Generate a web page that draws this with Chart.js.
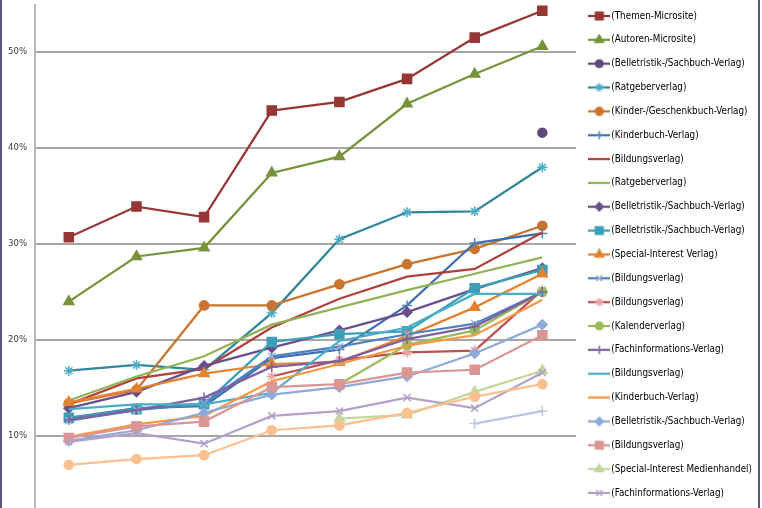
<!DOCTYPE html>
<html>
<head>
<meta charset="utf-8">
<script src="https://cdn.jsdelivr.net/npm/chart.js@4.4.1/dist/chart.umd.min.js"></script>
<style>
  html, body { margin: 0; padding: 0; background: #fff; overflow: hidden; width: 762px; height: 508px; }
  #wrap { position: relative; width: 762px; height: 508px; overflow: hidden; }
  #wrap canvas { position: absolute; left: 0; top: -3px; }
  .edge { position: absolute; top: 0; width: 2px; height: 508px; background: #55557f; }
</style>
</head>
<body>
<div id="wrap">
  <canvas id="myChart" width="762" height="580"></canvas>
  <div class="edge" style="left:0"></div>
  <div class="edge" style="left:758px"></div>
</div>
<script>
// x categories (labels are cut off in the original, so they stay hidden)
const categories = ["1", "2", "3", "4", "5", "6", "7", "8"];
const yTicks = [10, 20, 30, 40, 50];

// values in percent
const themenMicrosite = [30.7, 33.9, 32.8, 43.9, 44.8, 47.2, 51.5, 54.3];
const autorenMicrosite = [24.0, 28.7, 29.6, 37.4, 39.1, 44.6, 47.7, 50.6];
const belletristik1 = [null, null, null, null, null, null, null, 41.6];
const ratgeber1 = [16.8, 17.4, 16.9, 22.8, 30.5, 33.3, 33.4, 38.0];
const kinderGeschenk = [13.4, 14.8, 23.6, 23.6, 25.8, 27.9, 29.5, 31.9];
const kinderbuch1 = [11.9, 12.9, 13.1, 18.1, 19.0, 23.6, 30.1, 31.1];
const bildung1 = [13.3, 16.0, 17.0, 21.3, 24.3, 26.6, 27.4, 31.2];
const ratgeber2 = [13.7, 16.2, 18.3, 21.6, 23.4, 25.2, 26.9, 28.6];
const belletristik2 = [12.9, 14.6, 17.3, 19.2, 21.0, 22.9, 25.3, 27.5];
const belletristik3 = [11.9, 12.8, 13.3, 19.8, 20.6, 20.9, 25.4, 27.3];
const specialInterest = [13.5, 14.9, 16.5, 17.5, 17.7, 20.4, 23.4, 26.9];
const bildung2 = [11.6, 12.7, 13.4, 18.3, 19.3, 20.6, 21.7, 25.0];
const bildung3 = [null, null, null, 16.2, 17.9, 18.7, 18.9, 25.2];
const kalender = [null, null, null, null, 15.4, 19.5, 21.0, 25.0];
const fachinfo1 = [11.7, 12.7, 14.0, 17.2, 17.8, 20.1, 21.4, 25.0];
const bildung4 = [12.8, 13.3, 13.3, 14.5, 19.9, 21.3, 24.8, 24.8];
const kinderbuch2 = [9.9, 11.2, 12.1, 15.7, 17.5, 19.4, 20.5, 24.2];
const belletristik4 = [9.5, 10.6, 12.4, 14.3, 15.1, 16.2, 18.6, 21.6];
const bildung5 = [9.8, 11.0, 11.5, 15.1, 15.4, 16.6, 16.9, 20.5];
const specialMedien = [null, null, null, null, 11.8, 12.2, 14.6, 16.8];
const fachinfo2 = [9.4, 10.3, 9.2, 12.1, 12.6, 14.0, 12.9, 16.6];
// two more series whose legend entries are below the visible area
const extra1 = [7.0, 7.6, 8.0, 10.6, 11.1, 12.4, 14.1, 15.4];
const extra2 = [null, null, null, null, null, null, 11.3, 12.6];

const seriesNames = [
  "(Themen-Microsite)", "(Autoren-Microsite)", "(Belletristik-/Sachbuch-Verlag)", "(Ratgeberverlag)",
  "(Kinder-/Geschenkbuch-Verlag)", "(Kinderbuch-Verlag)", "(Bildungsverlag)", "(Ratgeberverlag)",
  "(Belletristik-/Sachbuch-Verlag)", "(Belletristik-/Sachbuch-Verlag)", "(Special-Interest Verlag)",
  "(Bildungsverlag)", "(Bildungsverlag)", "(Kalenderverlag)", "(Fachinformations-Verlag)",
  "(Bildungsverlag)", "(Kinderbuch-Verlag)", "(Belletristik-/Sachbuch-Verlag)", "(Bildungsverlag)",
  "(Special-Interest Medienhandel)", "(Fachinformations-Verlag)", "", ""
];
const seriesValues = [
  themenMicrosite, autorenMicrosite, belletristik1, ratgeber1, kinderGeschenk, kinderbuch1, bildung1,
  ratgeber2, belletristik2, belletristik3, specialInterest, bildung2, bildung3, kalender, fachinfo1,
  bildung4, kinderbuch2, belletristik4, bildung5, specialMedien, fachinfo2, extra1, extra2
];

// look: [line colour, marker colour, marker style, marker radius]
const looks = [
  ["#953735", "#953735", "rect", 6.4],
  ["#77933c", "#77933c", "triangle", 5.8],
  ["#604a7b", "#604a7b", "circle", 4.5],
  ["#31859c", "#4bacc6", "star", 5],
  ["#c9742f", "#c9742f", "circle", 4.6],
  ["#3f6fae", "#4f81bd", "cross", 5],
  ["#b0403c", "#b0403c", false, 0],
  ["#92b256", "#92b256", false, 0],
  ["#6a4f8d", "#6a4f8d", "rectRot", 4.8],
  ["#3c9fb8", "#3c9fb8", "rect", 6.4],
  ["#e5822f", "#e5822f", "triangle", 5.8],
  ["#4f81bd", "#95b3d7", "crossRot", 5],
  ["#c0504d", "#e6a3a1", "star", 5],
  ["#9bbb59", "#9bbb59", "circle", 4.5],
  ["#7e62a0", "#8064a2", "cross", 5],
  ["#4bacc6", "#4bacc6", false, 0],
  ["#f79646", "#f79646", false, 0],
  ["#8eaadb", "#8eaadb", "rectRot", 4.8],
  ["#d99694", "#d99694", "rect", 6.4],
  ["#c3d69b", "#c3d69b", "triangle", 5.8],
  ["#b3a2c7", "#b3a2c7", "crossRot", 5],
  ["#fac090", "#fac090", "circle", 4.6],
  ["#b9c6e3", "#b9c6e3", "cross", 5]
];

const FONT = "'DejaVu Sans Condensed', 'DejaVu Sans', sans-serif";
const LEGEND_SIZE = 9.8;

// small legend pictures: line with marker in the middle
function legendIcon(look) {
  const c = document.createElement("canvas");
  c.width = 22;
  c.height = 12;
  const g = c.getContext("2d");
  g.strokeStyle = look[0];
  g.lineWidth = 2.25;
  g.beginPath();
  g.moveTo(0, 6);
  g.lineTo(22, 6);
  g.stroke();
  if (look[2]) {
    g.fillStyle = look[1];
    g.strokeStyle = look[1];
    g.lineWidth = 1.5;
    Chart.helpers.drawPoint(g, { pointStyle: look[2], radius: look[3] * 0.85, rotation: 0, borderWidth: 1.5 }, 11, 6);
  }
  return c;
}
const icons = looks.map(legendIcon);

const datasets = seriesValues.map((vals, i) => ({
  label: seriesNames[i],
  data: vals,
  borderColor: looks[i][0],
  backgroundColor: looks[i][0],
  borderWidth: 2.25,
  pointStyle: looks[i][2] || "circle",
  pointRadius: looks[i][2] ? looks[i][3] : 0,
  pointBackgroundColor: looks[i][1],
  pointBorderColor: looks[i][1],
  pointBorderWidth: 1.5,
  tension: 0,
  fill: false
}));
// draw first series last so it is on top
datasets.forEach((d, i) => { d.order = -i; });

const ctx = document.getElementById("myChart");
const myChart = new Chart(ctx, {
  type: "line",
  data: { labels: categories, datasets: datasets },
  options: {
    responsive: false,
    animation: false,
    layout: { padding: { left: 8, top: 0, right: 0, bottom: 0 } },
    plugins: {
      tooltip: { enabled: false },
      legend: {
        position: "right",
        align: "start",
        maxWidth: 220,
        labels: {
          usePointStyle: true,
          pointStyleWidth: 14.2,
          boxHeight: LEGEND_SIZE,
          padding: 14.05,
          color: "#111",
          font: { family: FONT, size: LEGEND_SIZE },
          generateLabels: (chart) => chart.data.datasets.map((d, i) => ({
            text: d.label,
            pointStyle: icons[i],
            datasetIndex: i,
            hidden: false,
            lineWidth: 0,
            fillStyle: "rgba(0,0,0,0)",
            strokeStyle: "rgba(0,0,0,0)"
          })),
          filter: (item) => item.text !== ""
        }
      }
    },
    scales: {
      x: { display: false, offset: true },
      y: {
        min: 0,
        max: 56,
        afterBuildTicks: (axis) => { axis.ticks = yTicks.map((v) => ({ value: v })); },
        afterFit: (s) => { s.width = 27; s.paddingTop = 0; s.paddingBottom = 0; },
        ticks: {
          padding: 8,
          color: "#404040",
          font: { family: FONT, size: 9.5 },
          callback: (v) => v + "%"
        },
        grid: { color: "#a6a6a6", lineWidth: 2, drawTicks: false },
        border: { color: "#b8b8b8", width: 2 }
      },
      gap: {
        type: "linear",
        position: "right",
        display: true,
        grid: { display: false },
        ticks: { display: false },
        border: { display: false },
        afterFit: (s) => { s.width = 2; }
      }
    }
  }
});

// fit the value range so 50% and 10% land where the original has them
const area = myChart.chartArea;
const ppu = 9.6;
const shift = 3;
myChart.options.scales.y.max = 50 + (52 + shift - area.top) / ppu;
myChart.options.scales.y.min = 10 - (area.bottom - (436 + shift)) / ppu;
myChart.update("none");
</script>
</body>
</html>
